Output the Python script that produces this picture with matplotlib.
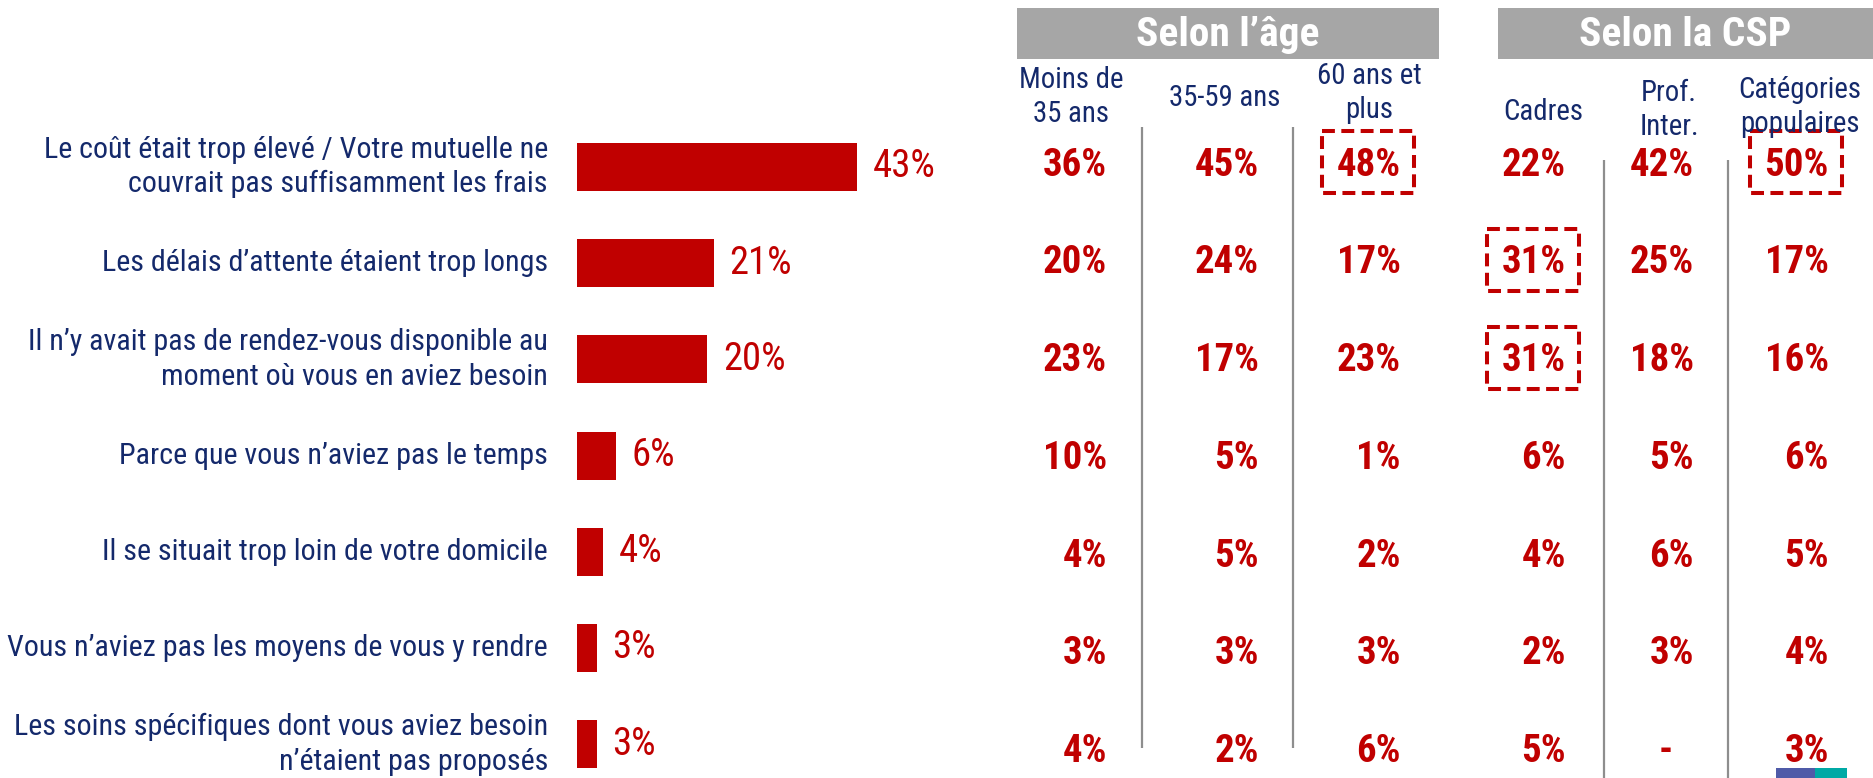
import matplotlib
matplotlib.use("Agg")
import matplotlib.pyplot as plt
from matplotlib import font_manager
from matplotlib.patches import Rectangle

# ------------------------------------------------------
# Data
# ------------------------------------------------------
reasons = [
    "Le coût était trop élevé / Votre mutuelle ne\ncouvrait pas suffisamment les frais",
    "Les délais d’attente étaient trop longs",
    "Il n’y avait pas de rendez-vous disponible au\nmoment où vous en aviez besoin",
    "Parce que vous n’aviez pas le temps",
    "Il se situait trop loin de votre domicile",
    "Vous n’aviez pas les moyens de vous y rendre",
    "Les soins spécifiques dont vous aviez besoin\nn’étaient pas proposés",
]
overall = [43, 21, 20, 6, 4, 3, 3]

section_titles = ["Selon l’âge", "Selon la CSP"]
group_labels = ["Moins de\n35 ans", "35-59 ans", "60 ans et\nplus",
                "Cadres", "Prof.\nInter.", "Catégories\npopulaires"]
age_under35 = [36, 20, 23, 10, 4, 3, 4]
age_35_59 = [45, 24, 17, 5, 5, 3, 2]
age_60plus = [48, 17, 23, 1, 2, 3, 6]
csp_cadres = [22, 31, 31, 6, 4, 2, 5]
csp_prof_inter = [42, 25, 18, 5, 6, 3, None]
csp_populaires = [50, 17, 16, 6, 5, 4, 3]
group_values = [age_under35, age_35_59, age_60plus,
                csp_cadres, csp_prof_inter, csp_populaires]
highlights = [(0, 2), (0, 5), (1, 3), (2, 3)]  # (row, column)

# ------------------------------------------------------
# Style / layout (pixels of the 1873x778 canvas)
# ------------------------------------------------------
RED = "#C00000"
NAVY = "#14296B"
GREY_BOX = "#A6A6A6"
GREY_LINE = "#8E8E8E"

W, H = 1873, 778
BAR_LEFT, PX_PER_PCT = 577, 6.5
BAR_ROW0, BAR_STEP = 167, 96.2
TAB_ROW0, TAB_STEP = 165, 97.8
col_right = [1107, 1259, 1401, 1566, 1694, 1829]
col_center = [1071, 1225, 1369, 1543, 1669, 1800]
head_y = [97, 98, 93, 112, 110, 107]
section_boxes = [(1017, 1439), (1498, 1873)]
separators = [(1142, 127, 748), (1293, 127, 748), (1604, 160, 778), (1728, 160, 778)]

available = {f.name for f in font_manager.fontManager.ttflist}
FONT = next((f for f in ["Liberation Sans Narrow", "Roboto Condensed",
                         "Open Sans Condensed", "DejaVu Sans"] if f in available),
            "DejaVu Sans")
plt.rcParams["font.family"] = [FONT, "DejaVu Sans"]

fig = plt.figure(figsize=(W / 100, H / 100), dpi=100)
renderer = fig.canvas.get_renderer()


def fit_size(txt, target_px, **kw):
    """Font size giving the text a rendered width of target_px."""
    t = fig.text(0, 0, txt, fontsize=20, **kw)
    w = t.get_window_extent(renderer=renderer).width
    t.remove()
    return 20 * target_px / w


fs_label = fit_size("Vous n’aviez pas les moyens de vous y rendre", 539)
fs_barval = fit_size("43%", 63)
fs_tabval = fit_size("36%", 64, fontweight="bold")
fs_head = fit_size("35-59 ans", 111)
fs_section = fit_size("Selon la CSP", 212, fontweight="bold")

# ------------------------------------------------------
# Bars
# ------------------------------------------------------
bar_top = BAR_ROW0 - BAR_STEP / 2
ymax = (H - BAR_ROW0) / BAR_STEP
ax_bar = fig.add_axes([BAR_LEFT / W, 0, 400 / W, (H - bar_top) / H])
ax_bar.set_xlim(0, 400 / PX_PER_PCT)
ax_bar.set_ylim(ymax, -0.5)
ax_bar.axis("off")

rows = range(len(overall))
ax_bar.barh(list(rows), overall, height=0.5, color=RED, edgecolor="none")
for i, (lab, v) in enumerate(zip(reasons, overall)):
    ax_bar.annotate(lab, xy=(0, i), xytext=(-29 * 0.72, 0), textcoords="offset points",
                    ha="right", va="center", fontsize=fs_label, color=NAVY,
                    linespacing=1.3, annotation_clip=False)
    ax_bar.annotate(f"{v}%", xy=(v, i), xytext=(16 * 0.72, 0), textcoords="offset points",
                    ha="left", va="center", fontsize=fs_barval, color=RED,
                    annotation_clip=False)

# ------------------------------------------------------
# Cross-table
# ------------------------------------------------------
ax_tab = fig.add_axes([0, 0, 1, 1], zorder=-1)
ax_tab.set_xlim(0, W)
ax_tab.set_ylim(H, 0)
ax_tab.axis("off")

for (x0, x1), title in zip(section_boxes, section_titles):
    ax_tab.add_patch(Rectangle((x0, 8), x1 - x0, 51, facecolor=GREY_BOX, edgecolor="none"))
    ax_tab.text((x0 + x1) / 2, 35, title, ha="center", va="center", color="white",
                fontsize=fs_section, fontweight="bold")

for lab, xc, yc in zip(group_labels, col_center, head_y):
    ax_tab.text(xc, yc, lab, ha="center", va="center", multialignment="center",
                fontsize=fs_head, color=NAVY, linespacing=1.3)

for x, y0, y1 in separators:
    ax_tab.plot([x, x], [y0, y1], color=GREY_LINE, lw=1.6, solid_capstyle="butt")

for j, vals in enumerate(group_values):
    for i, v in enumerate(vals):
        y = TAB_ROW0 + i * TAB_STEP
        if v is None:
            ax_tab.text(col_right[j] - 28, y, "-", ha="center", va="center",
                        fontsize=fs_tabval, fontweight="bold", color=RED)
        else:
            ax_tab.text(col_right[j], y, f"{v}%", ha="right", va="center",
                        fontsize=fs_tabval, fontweight="bold", color=RED)

for i, j in highlights:
    xc = col_right[j] - 33
    yc = TAB_ROW0 + i * TAB_STEP - 3
    ax_tab.add_patch(Rectangle((xc - 46, yc - 31), 92, 62, fill=False, edgecolor=RED,
                               lw=2.9, linestyle=(0, (3.2, 1.6))))

# small logo corner
ax_tab.add_patch(Rectangle((1776, 768), 39, 12, facecolor="#4F5BA8", edgecolor="none"))
ax_tab.add_patch(Rectangle((1815, 768), 32, 12, facecolor="#00A9A5", edgecolor="none"))

fig.savefig("out.png", dpi=100)
